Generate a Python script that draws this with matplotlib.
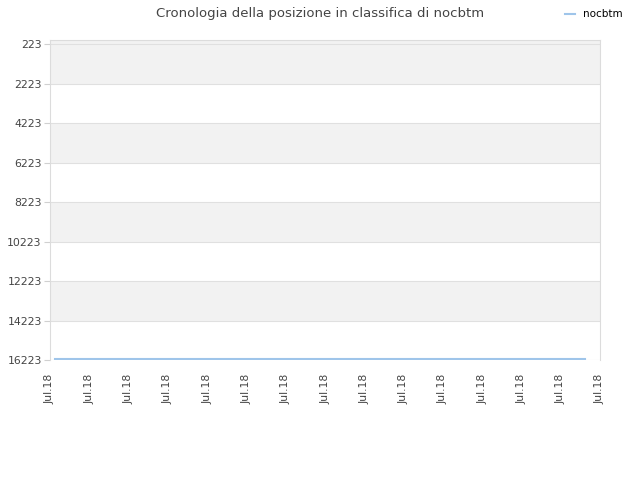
import matplotlib
matplotlib.use("Agg")
import matplotlib.pyplot as plt
import numpy as np

# dati
days = [0.13, 1, 2, 3, 4, 5, 6, 7, 8, 9, 10, 11, 12, 13, 13.62]
rank = [16180] * len(days)
tick_pos = list(range(15))
tick_labels = ["Jul.18"] * 15
y_ticks = [223, 2223, 4223, 6223, 8223, 10223, 12223, 14223, 16223]

fig = plt.figure(figsize=(6.4, 4.8), dpi=100)
ax = fig.add_axes([50 / 640, 0.25, 550 / 640, 320 / 480])
ax.set_axisbelow(True)

# bande alternate
for i in range(len(y_ticks) - 1):
    if i % 2 == 0:
        ax.axhspan(y_ticks[i], y_ticks[i + 1], color="#f2f2f2", zorder=0, lw=0)
ax.axhspan(0, y_ticks[0], color="#f2f2f2", zorder=0, lw=0)

ax.plot(days, rank, color="#9fc5ea", lw=1.5, label="nocbtm", zorder=5)

ax.set_xlim(0, 14)
ax.set_ylim(16223, 20)
ax.set_yticks(y_ticks)
ax.set_yticklabels([str(v) for v in y_ticks])
ax.set_xticks(tick_pos)
ax.set_xticklabels(tick_labels, rotation=90)
ax.tick_params(axis="both", labelsize=7.8, colors="#444444", length=0)
ax.tick_params(axis="x", pad=10)
ax.tick_params(axis="y", length=4, color="#d0d0d0", pad=2)
ax.grid(axis="y", color="#e0e0e0", lw=0.8)
for s in ax.spines.values():
    s.set_color("#dcdcdc")
ax.spines["bottom"].set_visible(False)

fig.suptitle("Cronologia della posizione in classifica di nocbtm", x=0.5, y=0.985,
             fontsize=9.5, color="#444444")
fig.legend(loc="upper right", bbox_to_anchor=(0.988, 1.0), frameon=False, fontsize=7.5,
           handlelength=1.0, handletextpad=0.8)

fig.savefig("out.png", dpi=100)
